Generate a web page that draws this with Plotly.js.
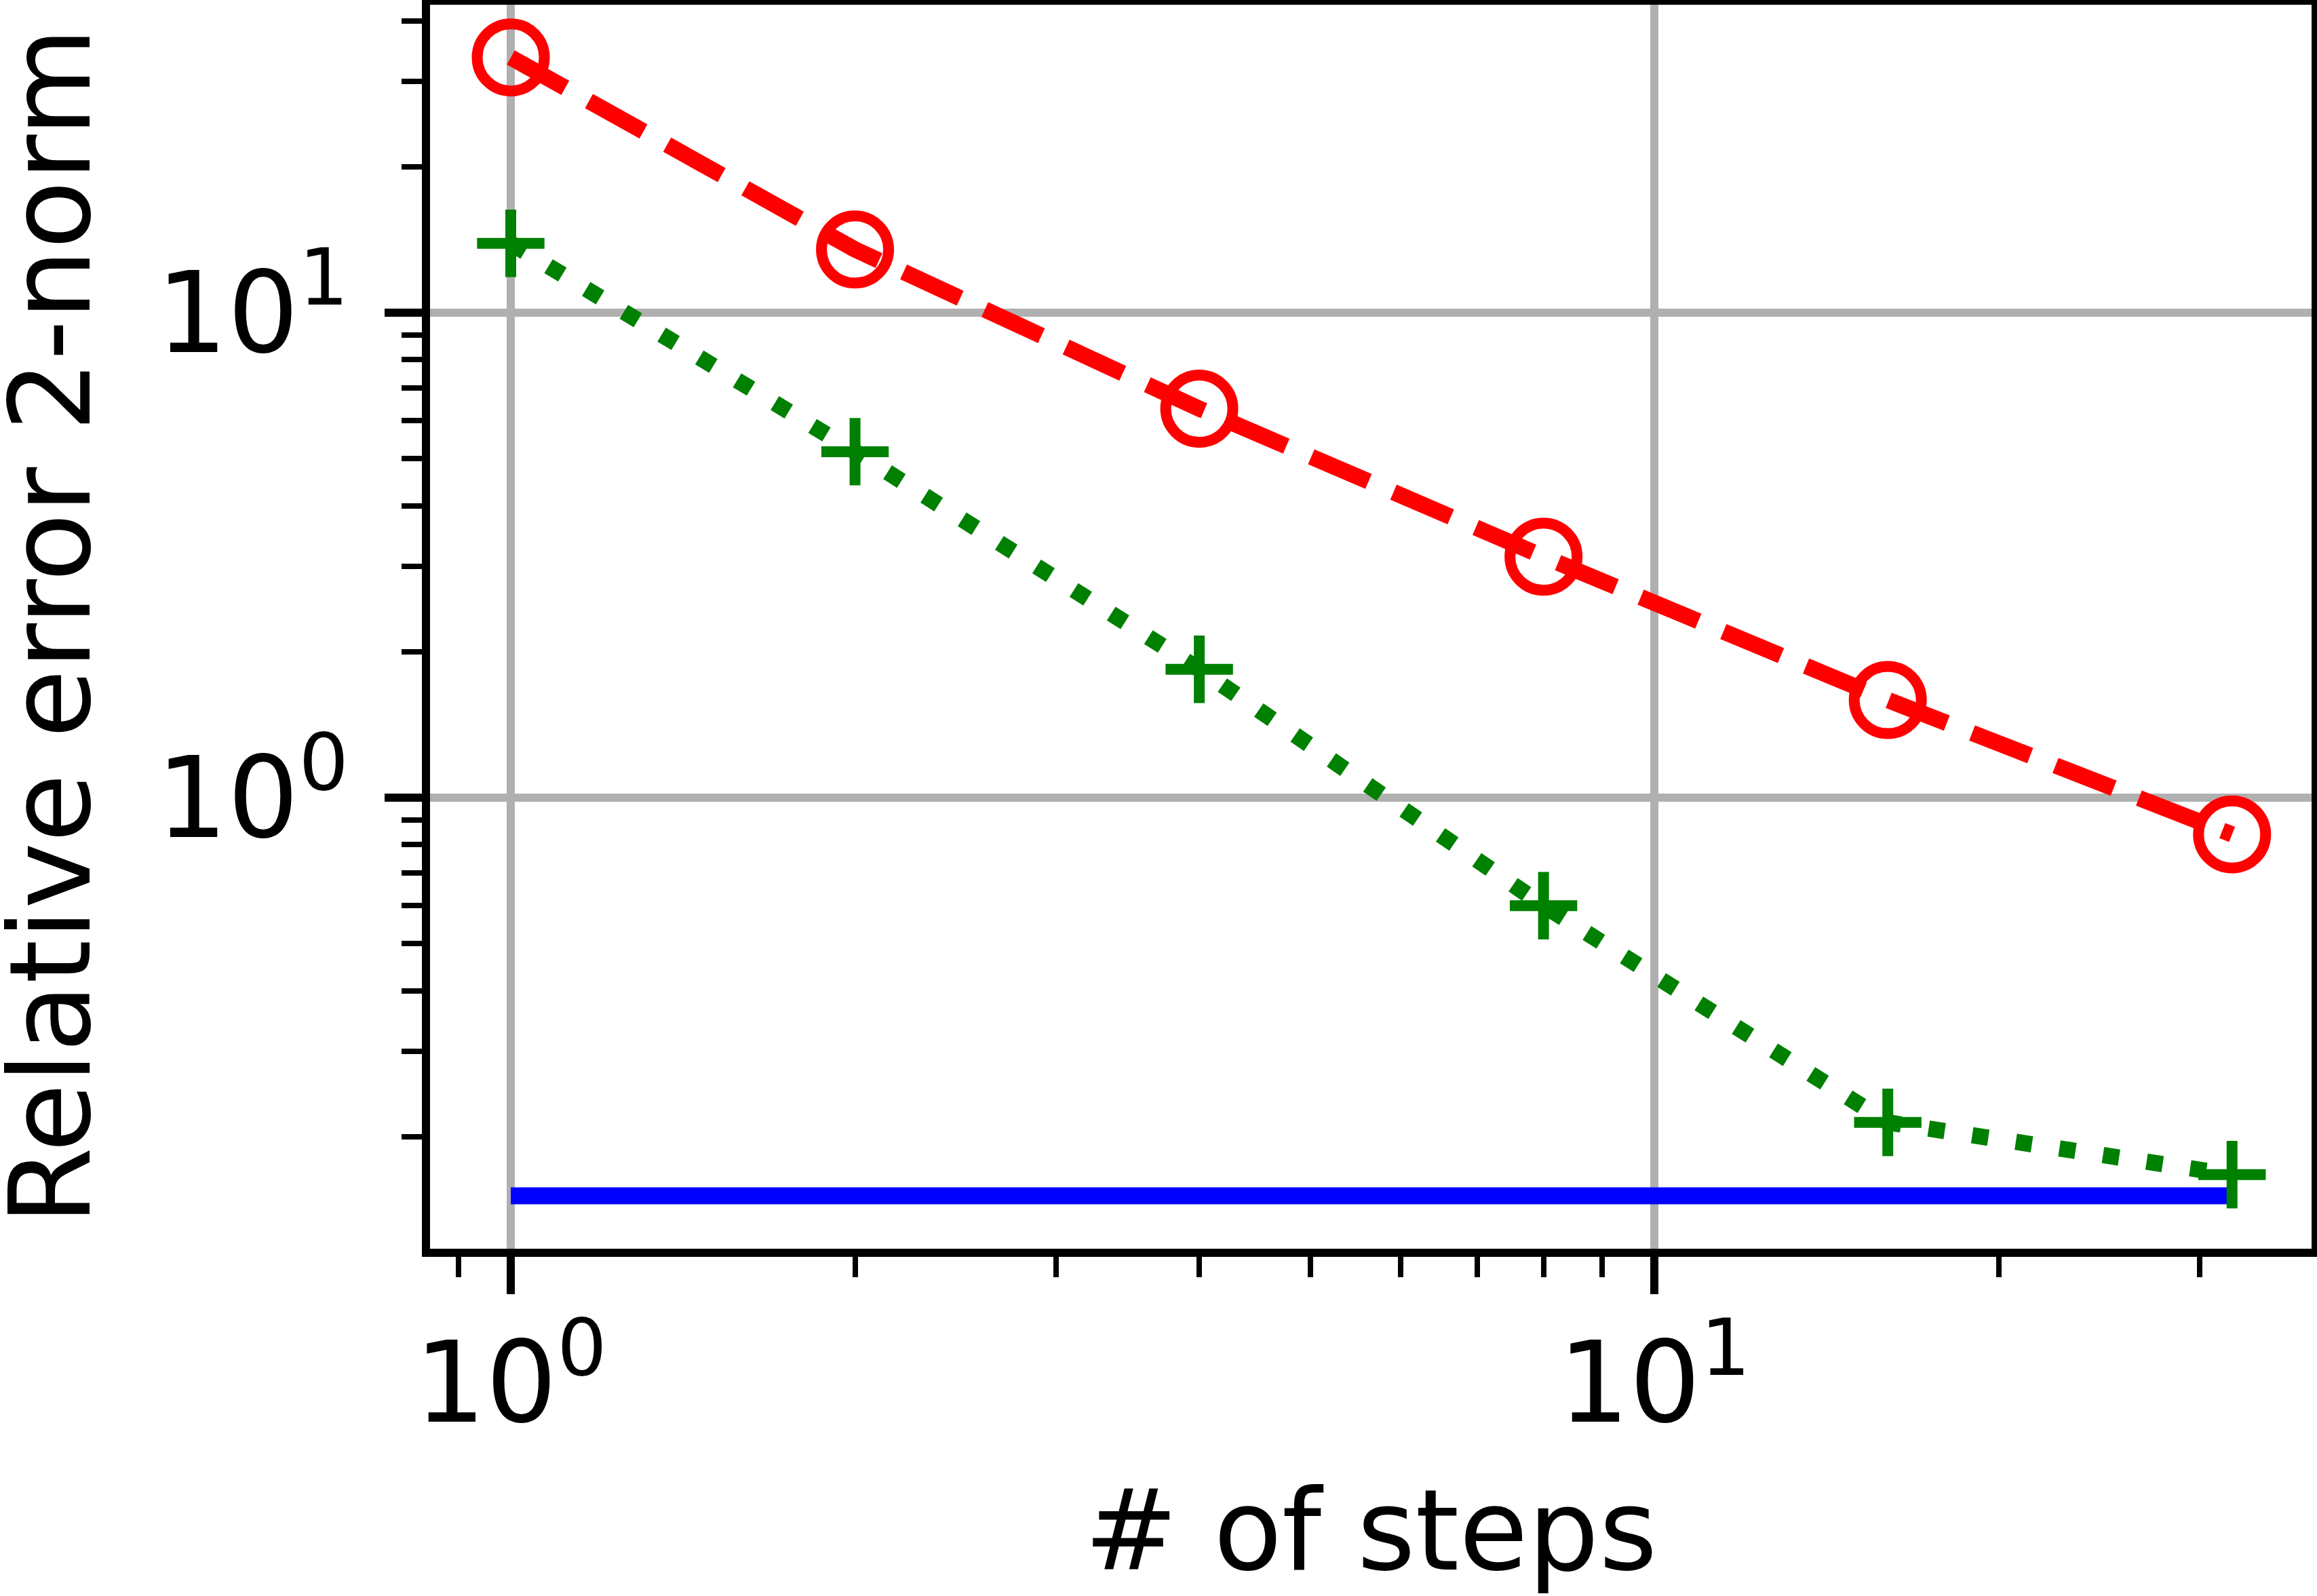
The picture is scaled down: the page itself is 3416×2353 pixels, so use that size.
<!DOCTYPE html>
<html>
<head>
<meta charset="utf-8">
<script src="https://cdn.plot.ly/plotly-3.0.1.min.js"></script>
<style>
  html, body { margin: 0; padding: 0; background: #ffffff; }
  #graph { width: 3416px; height: 2353px; }
</style>
</head>
<body>
<div id="graph"></div>
<script>
// data
const steps = [1, 2, 4, 8, 16, 32];
const errCircle = [33.6, 13.5, 6.34, 3.14, 1.59, 0.840];
const errCross = [13.9, 5.17, 1.84, 0.599, 0.214, 0.167];
const baseSteps = [1, 32];
const errBaseline = [0.151, 0.151];

// tick labels
const majorVals = [1, 10];
const majorText = ['10<sup>0</sup>', '10<sup>1</sup>'];
const xMinorVals = [0.9, 2, 3, 4, 5, 6, 7, 8, 9, 20, 30];
const yMinorVals = [0.2, 0.3, 0.4, 0.5, 0.6, 0.7, 0.8, 0.9, 2, 3, 4, 5, 6, 7, 8, 9, 20, 30, 40];

document.addEventListener('DOMContentLoaded', function() {
    const FONT = 'DejaVu Sans, sans-serif';
    const FS = 165;

    const baseline = {
        x: baseSteps, y: errBaseline, type: 'scatter', mode: 'lines',
        line: { color: '#0000ff', width: 25 },
        showlegend: false
    };
    const circles = {
        x: steps, y: errCircle, type: 'scatter', mode: 'lines+markers',
        line: { color: '#ff0000', width: 24, dash: '92px,40px' },
        marker: { symbol: 'circle-open', size: 99, color: '#ff0000', line: { width: 16, color: '#ff0000' } },
        showlegend: false
    };
    const crosses = {
        x: steps, y: errCross, type: 'scatter', mode: 'lines+markers',
        line: { color: '#008000', width: 24, dash: '24px,41px' },
        marker: { symbol: 'cross-thin', size: 71, color: '#008000', line: { width: 16, color: '#008000' } },
        showlegend: false
    };

    function axis(range, minorVals, labelGap) {
        return {
            type: 'log',
            range: range,
            tickmode: 'array',
            tickvals: majorVals,
            ticktext: majorText,
            ticks: 'outside',
            ticklen: 55,
            tickwidth: 12,
            tickcolor: '#000',
            ticklabelstandoff: labelGap,
            tickfont: { family: FONT, size: FS, color: '#000' },
            showline: true,
            linecolor: '#000',
            linewidth: 12,
            mirror: true,
            showgrid: true,
            gridcolor: '#b0b0b0',
            gridwidth: 12,
            zeroline: false,
            minor: {
                tickmode: 'array',
                tickvals: minorVals,
                ticks: 'outside',
                ticklen: 30,
                tickwidth: 8,
                tickcolor: '#000',
                showgrid: false
            },
            automargin: false
        };
    }

    const xaxis = axis([-0.0706, 1.5747], xMinorVals, -10);
    xaxis.title = { text: '# of steps', font: { family: FONT, size: FS, color: '#000' }, standoff: 83 };
    const yaxis = axis([-0.930, 1.635], yMinorVals, 20);

    // y title as a rotated annotation so it can sit at the page edge
    const yTitle = {
        text: 'Relative error 2-norm',
        xref: 'paper', yref: 'paper',
        x: (173 - 634) / 2774, xanchor: 'right',
        y: 0.5, yanchor: 'middle',
        textangle: -90,
        showarrow: false,
        font: { family: FONT, size: FS, color: '#000' }
    };

    const layout = {
        width: 3416,
        height: 2353,
        margin: { l: 634, r: 8, t: 7, b: 512 },
        paper_bgcolor: '#ffffff',
        plot_bgcolor: '#ffffff',
        showlegend: false,
        xaxis: xaxis,
        yaxis: yaxis,
        annotations: [yTitle]
    };

    Plotly.newPlot('graph', [baseline, circles, crosses], layout, { staticPlot: true, displayModeBar: false });
});
</script>
</body>
</html>
